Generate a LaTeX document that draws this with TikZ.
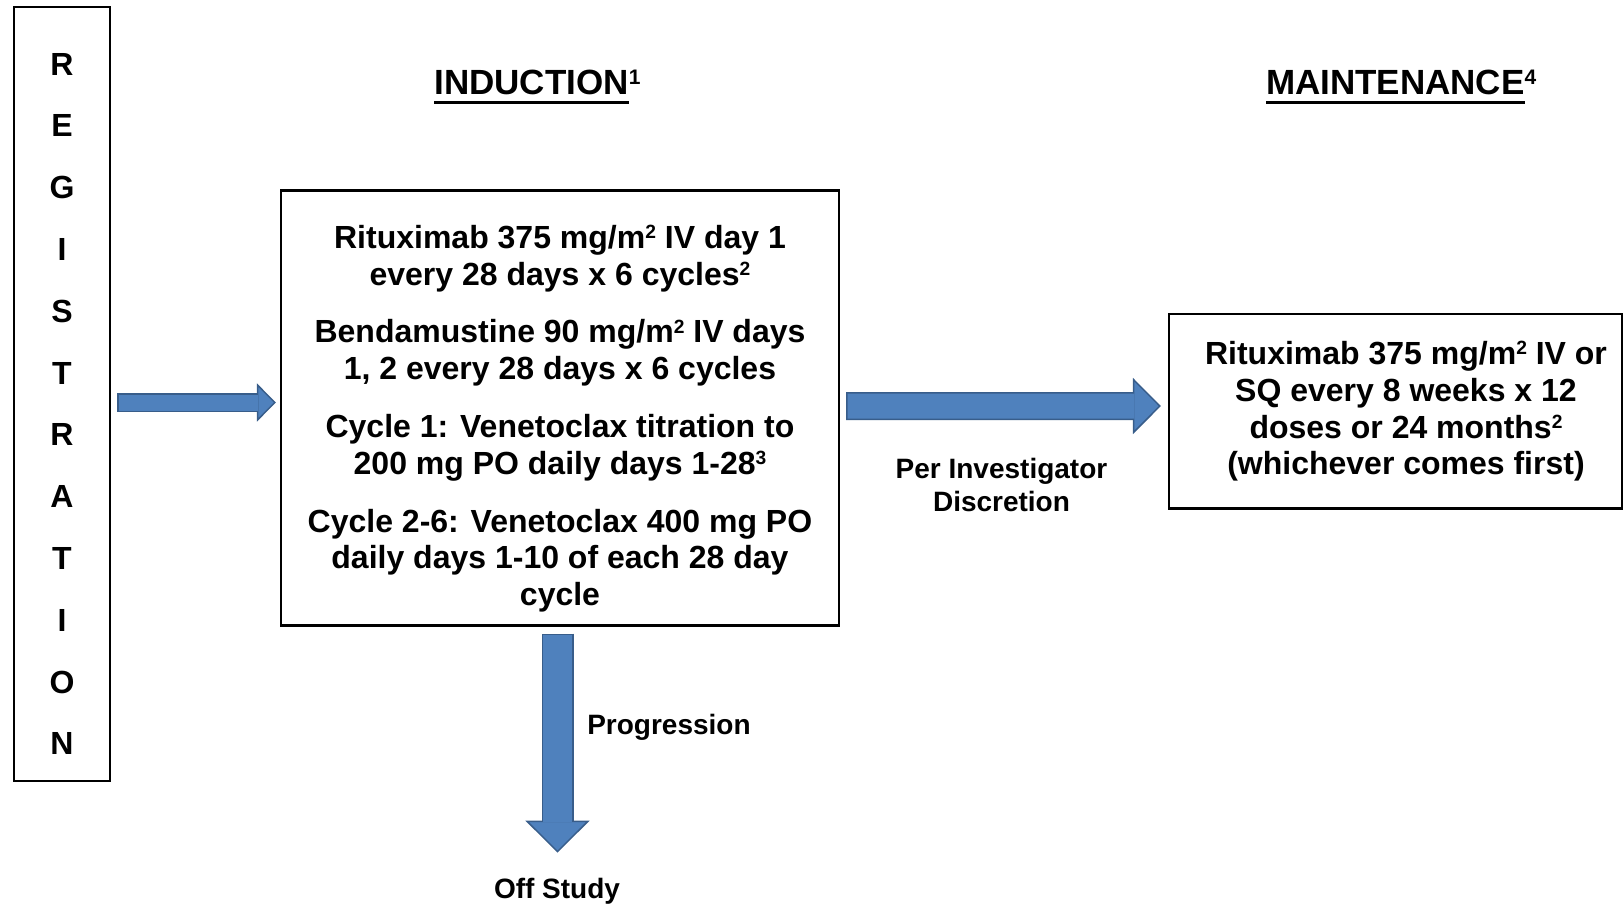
\documentclass[tikz,border=0pt]{standalone}
\usepackage{fontspec}
\setmainfont{Liberation Sans}
\usetikzlibrary{arrows.meta}

\definecolor{arrowfill}{HTML}{4F81BD}
\definecolor{arrowedge}{HTML}{385D8A}

\newsavebox{\headbox}
\newcommand{\headul}[1]{\sbox{\headbox}{#1}\rlap{\rule[-4.5pt]{\wd\headbox}{1.6pt}}\usebox{\headbox}}
\newcommand{\sups}[1]{\raisebox{0.3em}{\scalebox{0.6}{#1}}}

\tikzset{
  box/.style={draw, line width=1.1pt, inner sep=0pt},
  txt/.style={inner sep=0pt, align=center, font=\fontsize{16}{18.4}\selectfont\bfseries},
  smalltxt/.style={inner sep=0pt, align=center, font=\fontsize{14}{16.5}\selectfont\bfseries},
  head/.style={inner sep=0pt, anchor=base west, font=\fontsize{17.5}{21}\selectfont\bfseries},
  bluearrow/.style={draw=arrowedge, line width=#1,
    -{Triangle[length=#1, width'=0pt 2, line width=0.75pt, fill=arrowfill]},
    postaction={draw=arrowfill, line width=#1-1.5pt, -, shorten <=0.75pt, shorten >=#1-0.75pt}}
}

\begin{document}
\begin{tikzpicture}[x=0.5pt, y=-0.5pt]
    \useasboundingbox (0,0) rectangle (1624,904);
    % registration column
    \node (reg) [box, minimum width=48.25pt, minimum height=387pt] at (62,394) {};
    \foreach \ch [count=\i] in {R,E,G,I,S,T,R,A,T,I,O,N}
        \node (reg_\i) [txt] at (62, {64+61.8*(\i-1)}) {\ch};
    % induction
    \node (ind_head) [head] at (434,95) {\headul{INDUCTION}\sups{1}};
    \node (ind) [box, minimum width=279pt, minimum height=217.5pt] at (560,408) {};
    \node (ind_text) [txt] at (560,418.8) {Rituximab 375 mg/m\sups{2} IV day 1\\
        every 28 days x 6 cycles\sups{2}\\[10.5pt]
        Bendamustine 90 mg/m\sups{2} IV days\\
        1, 2 every 28 days x 6 cycles\\[10.5pt]
        Cycle 1: Venetoclax titration to\\
        200 mg PO daily days 1-28\sups{3}\\[10.5pt]
        Cycle 2-6: Venetoclax 400 mg PO\\
        daily days 1-10 of each 28 day\\
        cycle};
    % maintenance
    \node (maint_head) [head] at (1265.6,95) {\headul{MAINTENANCE}\sups{4}};
    \node (maint) [box, minimum width=226.5pt, minimum height=97.25pt] at (1395.5,411.25) {};
    \node (maint_text) [txt] at (1406,411.5) {Rituximab 375 mg/m\sups{2} IV or\\
        SQ every 8 weeks x 12\\
        doses or 24 months\sups{2}\\
        (whichever comes first)};
    % labels
    \node (per) [smalltxt] at (1001.5,485) {Per Investigator\\Discretion};
    \node (prog) [smalltxt] at (669,727.6) {Progression};
    \node (off) [smalltxt] at (557,891.6) {Off Study};
    % arrows
    \draw[bluearrow=9.5pt] ([xshift=3pt,yshift=-4.25pt]reg.east) -- ([xshift=-2pt,yshift=2.75pt]ind.west);
    \draw[bluearrow=14pt] ([xshift=3pt,yshift=1pt]ind.east) -- ([xshift=-3.5pt,yshift=2.6pt]maint.west);
    \draw[bluearrow=16pt] ([xshift=-1.25pt,yshift=-3.5pt]ind.south) -- ([xshift=0.25pt,yshift=12.75pt]off.north);
\end{tikzpicture}
\end{document}
